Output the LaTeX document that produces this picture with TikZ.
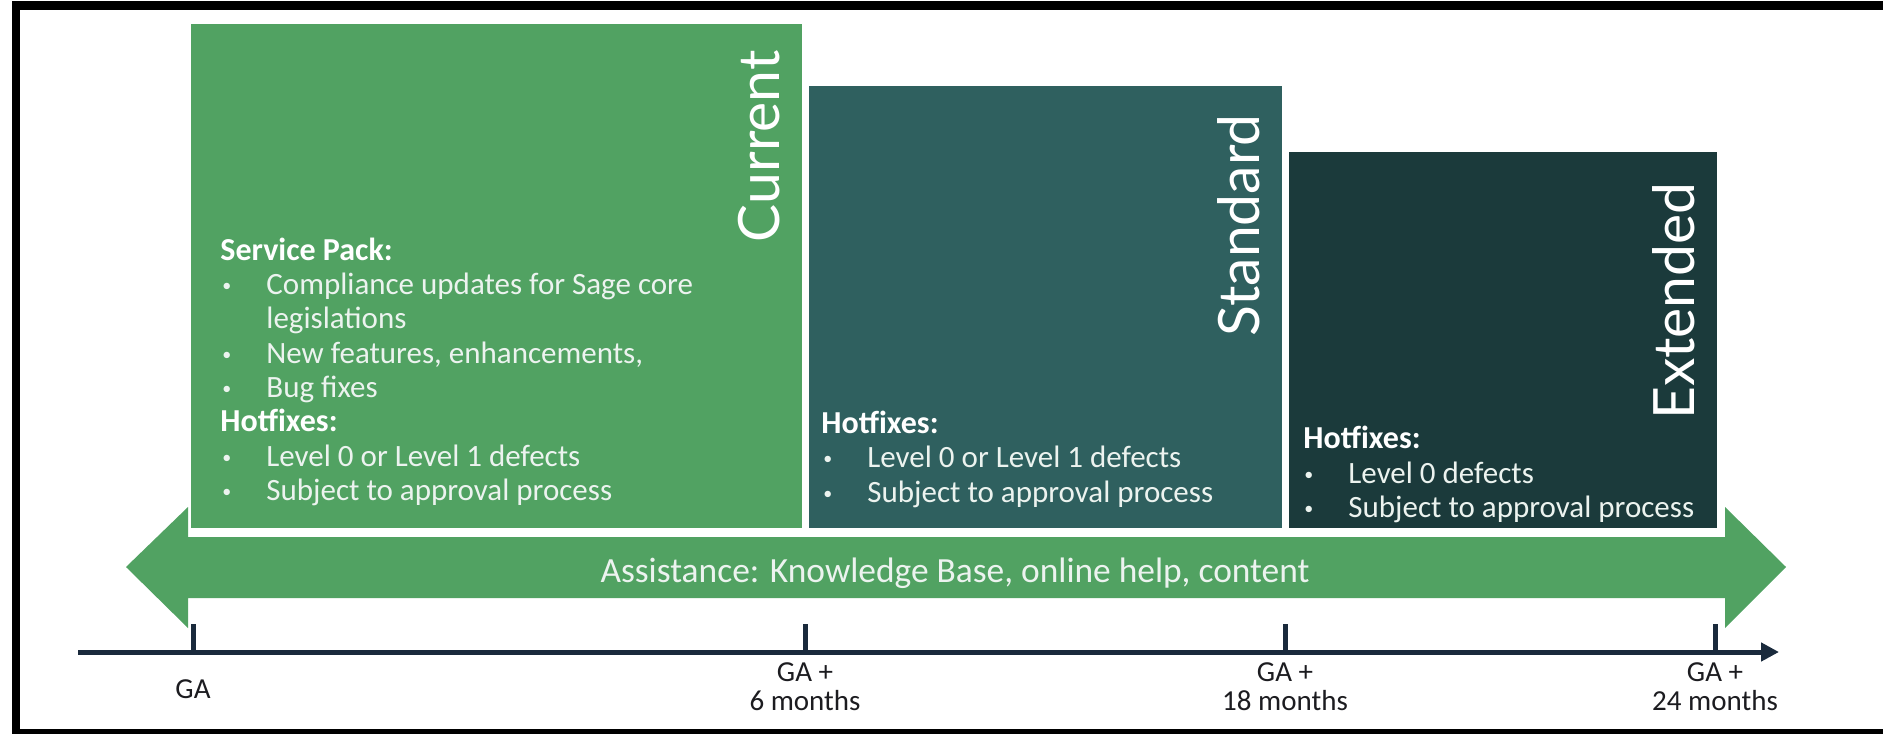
\documentclass[tikz,border=0pt]{standalone}
\usepackage{fontspec}
\setmainfont{Carlito}
\newfontfamily\titlefont{Lato}
\usetikzlibrary{arrows.meta}
\definecolor{curcol}{RGB}{81,162,98}
\definecolor{stdcol}{RGB}{47,96,95}
\definecolor{extcol}{RGB}{27,58,59}
\definecolor{axcol}{RGB}{26,42,60}
\definecolor{txtcol}{RGB}{236,243,239}
\definecolor{lblcol}{RGB}{28,28,32}
\newcommand{\bulitem}{\makebox[22pt][l]{\raisebox{1.2pt}{\fontsize{9pt}{9pt}\selectfont\textbullet}}}
\tikzset{
  bodytxt/.style={anchor=base west, inner sep=0pt, text=txtcol, font=\fontsize{15.5pt}{17pt}\selectfont},
  headtxt/.style={anchor=base west, inner sep=0pt, text=white, font=\fontsize{16pt}{17pt}\selectfont\bfseries},
  titletxt/.style={anchor=south east, rotate=90, inner sep=0pt, text=white, font=\titlefont\fontsize{28.5pt}{30pt}\selectfont},
  axlbl/.style={anchor=base, inner sep=0pt, text=lblcol, font=\fontsize{14.5pt}{16pt}\selectfont},
  arrowtxt/.style={anchor=base, inner sep=0pt, text=txtcol, font=\fontsize{17.7pt}{19pt}\selectfont},
  tickline/.style={draw=axcol, line width=2.5pt},
  axisline/.style={draw=axcol, line width=2.5pt, -{Triangle[length=9pt,width=9pt]}},
}
\begin{document}
\begin{tikzpicture}[x=0.5pt,y=-0.5pt]
\useasboundingbox (0,0) rectangle (1883,734);
% frame
\fill[black] (12,1) rectangle (20,734);
\fill[black] (12,1) rectangle (1883,10);
\fill[black] (12,729) rectangle (1883,734);
% boxes
\fill[curcol] (191,24) rectangle (802,528);
\fill[stdcol] (809,86) rectangle (1282,528);
\fill[extcol] (1289,152) rectangle (1717,528);
% titles
\node[titletxt] (tcur) at (780,50) {Current};
\node[titletxt] (tstd) at (1260,114) {Standard};
\node[titletxt] (text) at (1695,182) {Extended};
% current text
\node[headtxt] (c1) at (220,260) {Service Pack:};
\node[bodytxt] (c2) at (222,294) {\bulitem Compliance updates for Sage core};
\node[bodytxt] (c3) at (266,328.5) {legislations};
\node[bodytxt] (c4) at (222,363) {\bulitem New features, enhancements,};
\node[bodytxt] (c5) at (222,397) {\bulitem Bug fixes};
\node[headtxt] (c6) at (220,431.5) {Hotfixes:};
\node[bodytxt] (c7) at (222,466) {\bulitem Level 0 or Level 1 defects};
\node[bodytxt] (c8) at (222,500) {\bulitem Subject to approval process};
% standard text
\node[headtxt] (s1) at (821,433) {Hotfixes:};
\node[bodytxt] (s2) at (823,467) {\bulitem Level 0 or Level 1 defects};
\node[bodytxt] (s3) at (823,502) {\bulitem Subject to approval process};
% extended text
\node[headtxt] (e1) at (1303,448) {Hotfixes:};
\node[bodytxt] (e2) at (1304,483) {\bulitem Level 0 defects};
\node[bodytxt] (e3) at (1304,517) {\bulitem Subject to approval process};
% double arrow
\fill[curcol] (126,567) -- (188,507) -- (188,537) -- (1725,537) -- (1725,507)
  -- (1786,567) -- (1725,628) -- (1725,598) -- (188,598) -- (188,628) -- cycle;
\node[arrowtxt] (assist) at (955,582) {Assistance: Knowledge Base, online help, content};
% axis
\coordinate (ax0) at (78,652);
\coordinate (ax1) at (1779,652);
\draw[axisline] (ax0) -- (ax1);
\coordinate (t0) at (193,624); \coordinate (b0) at (193,652);
\coordinate (t1) at (805,624); \coordinate (b1) at (805,652);
\coordinate (t2) at (1285,624); \coordinate (b2) at (1285,652);
\coordinate (t3) at (1715,624); \coordinate (b3) at (1715,652);
\draw[tickline] (t0) -- (b0);
\draw[tickline] (t1) -- (b1);
\draw[tickline] (t2) -- (b2);
\draw[tickline] (t3) -- (b3);
% labels
\node[axlbl] (l0) at (193,698) {GA};
\node[axlbl] (l1a) at (805,681) {GA +};
\node[axlbl] (l1b) at (805,710) {6 months};
\node[axlbl] (l2a) at (1285,681) {GA +};
\node[axlbl] (l2b) at (1285,710) {18 months};
\node[axlbl] (l3a) at (1715,681) {GA +};
\node[axlbl] (l3b) at (1715,710) {24 months};
\end{tikzpicture}
\end{document}
